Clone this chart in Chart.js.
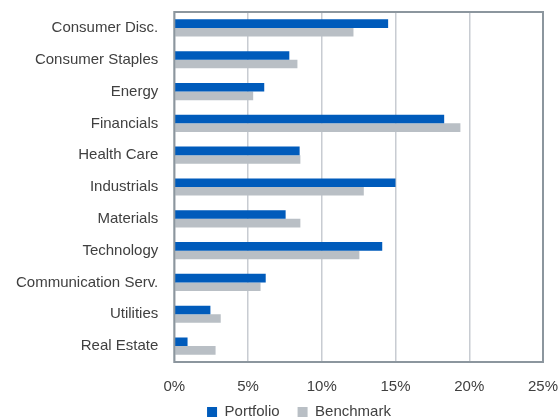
<!DOCTYPE html>
<html>
<head>
<meta charset="utf-8">
<script src="https://cdn.jsdelivr.net/npm/chart.js@4"></script>
<style>
html,body{margin:0;padding:0;background:#fff;}
#wrap{width:560px;height:417px;}
</style>
</head>
<body>
<div id="wrap"><canvas id="c"></canvas></div>
<script>
const categories = ["Consumer Disc.","Consumer Staples","Energy","Financials","Health Care","Industrials","Materials","Technology","Communication Serv.","Utilities","Real Estate"];
const portfolio = [14.5, 7.8, 6.1, 18.3, 8.5, 15.0, 7.55, 14.1, 6.2, 2.45, 0.9];
const benchmark = [12.15, 8.35, 5.35, 19.4, 8.55, 12.85, 8.55, 12.55, 5.85, 3.15, 2.8];
const xTicks = [0, 5, 10, 15, 20, 25];

const FONT = "'Liberation Sans Narrow', 'Liberation Sans', Arial, sans-serif";
const boxPlugin = {
  id: 'box',
  afterLayout(chart) {
    const lg = chart.legend;
    if (lg) {
      lg.left += 27.5; lg.right += 27.5;
      lg.top -= 8.5; lg.bottom += 12;
    }
  },
  afterDatasetsDraw(chart) {
    const a = chart.chartArea, ctx = chart.ctx;
    ctx.save();
    ctx.strokeStyle = '#8c969e';
    ctx.lineWidth = 2;
    ctx.strokeRect(a.left, a.top, a.right - a.left, a.bottom - a.top);
    ctx.restore();
  }
};

new Chart(document.getElementById('c'), {
  type: 'bar',
  data: {
    labels: categories,
    datasets: [
      {label: 'Portfolio', data: portfolio, backgroundColor: '#005bbb', borderWidth: 0, categoryPercentage: 0.54, barPercentage: 1.0},
      {label: 'Benchmark', data: benchmark, backgroundColor: '#b9bfc5', borderWidth: 0, categoryPercentage: 0.54, barPercentage: 1.0}
    ]
  },
  options: {
    indexAxis: 'y',
    responsive: true,
    maintainAspectRatio: false,
    animation: false,
    layout: {padding: {top: 12, right: 17, left: 0, bottom: 0}},
    plugins: {
      tooltip: {enabled: false},
      legend: {
        position: 'bottom',
        maxHeight: 22,
        labels: {
          font: {family: FONT, size: 15},
          color: '#404040',
          boxWidth: 10, boxHeight: 10,
          padding: 18
        }
      }
    },
    scales: {
      x: {
        min: 0, max: 25,
        afterBuildTicks(axis) { axis.ticks = xTicks.map(v => ({value: v})); },
        afterFit(scale) { scale.paddingLeft = 0; scale.paddingRight = 0; scale.height = 33; },
        ticks: {
          callback: v => v + '%',
          font: {family: FONT, size: 15},
          color: '#404040',
          padding: 16
        },
        grid: {color: '#c8ccd2', lineWidth: 1.5, drawTicks: false},
        border: {display: false}
      },
      y: {
        afterFit(scale) { scale.paddingTop = 0; scale.paddingBottom = 0; },
        ticks: {
          font: {family: FONT, size: 15},
          color: '#404040',
          padding: 16
        },
        grid: {display: false, drawTicks: false},
        border: {display: false}
      }
    }
  },
  plugins: [boxPlugin]
});
</script>
</body>
</html>
